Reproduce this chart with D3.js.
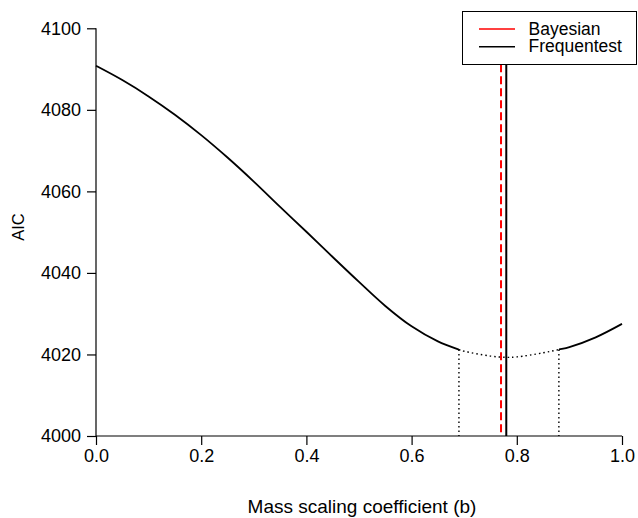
<!DOCTYPE html>
<html><head><meta charset="utf-8">
<script src="https://cdn.jsdelivr.net/npm/d3@7"></script>
<style>body{margin:0;background:#fff}svg{display:block}text{font-family:"Liberation Sans",Arial,sans-serif;fill:#000}</style>
</head><body>
<script>
const bValues = [0.00,0.05,0.10,0.15,0.20,0.25,0.30,0.35,0.40,0.45,0.50,0.55,0.60,0.65,0.69,0.70,0.75,0.78,0.80,0.85,0.88,0.90,0.95,1.00];
const aicValues = [4090.8,4087.3,4083.3,4078.8,4073.8,4068.3,4062.4,4056.2,4050.1,4043.9,4037.8,4031.9,4026.9,4023.2,4021.2,4020.8,4019.6,4019.3,4019.4,4020.4,4021.2,4021.8,4024.2,4027.5];
const ciBounds = [0.69, 0.88];
const bayesianEstimate = 0.770;
const frequentistEstimate = 0.780;
const xTicks = [0,0.2,0.4,0.6,0.8,1.0];
const yTicks = [4000,4020,4040,4060,4080,4100];
const legendLabels = ["Bayesian","Frequentest"];
const legendColors = ["#ff0000","#000000"];

const W=638,H=518;
const svg=d3.select("body").append("svg").attr("width",W).attr("height",H);
const x=d3.scaleLinear().domain([0,1]).range([96,622]);
const y=d3.scaleLinear().domain([4000,4100]).range([436,28.3]);

const pts=bValues.map((b,i)=>({b,a:aicValues[i]}));
const line=d3.line().x(d=>x(d.b)).y(d=>y(d.a)).curve(d3.curveCatmullRom.alpha(0.5));
const defs=svg.append("defs");
defs.append("clipPath").attr("id","cl").append("rect").attr("x",0).attr("y",0).attr("width",x(ciBounds[0])).attr("height",H);
defs.append("clipPath").attr("id","cr").append("rect").attr("x",x(ciBounds[1])).attr("y",0).attr("width",W).attr("height",H);
defs.append("clipPath").attr("id","cm").append("rect").attr("x",x(ciBounds[0])).attr("y",0).attr("width",x(ciBounds[1])-x(ciBounds[0])).attr("height",H);
const g=svg.append("g");
["cl","cr"].forEach(c=>g.append("path").attr("d",line(pts)).attr("clip-path",`url(#${c})`).attr("fill","none").attr("stroke","#000").attr("stroke-width",1.8));
g.append("path").attr("d",line(pts)).attr("clip-path","url(#cm)").attr("fill","none").attr("stroke","#000").attr("stroke-width",1.4).attr("stroke-dasharray","1.5,3");
ciBounds.forEach(b=>{
  const a=aicValues[bValues.indexOf(b)];
  g.append("line").attr("x1",x(b)).attr("x2",x(b)).attr("y1",y(a)).attr("y2",y(4000))
   .attr("stroke","#000").attr("stroke-width",1.4).attr("stroke-dasharray","1.5,3");
});
g.append("line").attr("x1",x(bayesianEstimate)).attr("x2",x(bayesianEstimate)).attr("y1",y(4100)).attr("y2",y(4000))
 .attr("stroke","#ff0000").attr("stroke-width",2).attr("stroke-dasharray","8,4");
g.append("line").attr("x1",x(frequentistEstimate)).attr("x2",x(frequentistEstimate)).attr("y1",y(4100)).attr("y2",y(4000))
 .attr("stroke","#000").attr("stroke-width",2);

// axes
const fs="18px";
const xa=svg.append("g").attr("transform","translate(0,436)")
 .call(d3.axisBottom(x).tickValues(xTicks).tickFormat(d3.format(".1f")).tickSize(9).tickPadding(4));
const ya=svg.append("g").attr("transform","translate(96,0)")
 .call(d3.axisLeft(y).tickValues(yTicks).tickFormat(d3.format("d")).tickSize(9).tickPadding(6));
[xa,ya].forEach(a=>{a.select(".domain").attr("stroke","#000").attr("stroke-width",1.2);
 a.selectAll(".tick line").attr("stroke","#000").attr("stroke-width",1.2);
 a.selectAll(".tick text").attr("font-size",fs).attr("font-family","Liberation Sans, Arial, sans-serif").attr("fill","#000");});
xa.select(".domain").attr("d","M96,0H622");
ya.select(".domain").attr("d","M0,28.3V436");

svg.append("text").attr("x",362).attr("y",513).attr("text-anchor","middle").attr("font-size","19px").text("Mass scaling coefficient (b)");
svg.append("text").attr("transform","translate(24,227) rotate(-90)").attr("text-anchor","middle").attr("font-size","16.5px").text("AIC");

// legend
const lg=svg.append("g");
lg.append("rect").attr("x",462.5).attr("y",11.5).attr("width",174).attr("height",53).attr("fill","#fff").attr("stroke","#000").attr("stroke-width",1);
legendLabels.forEach((t,i)=>{
  const yy=29+i*17.7;
  lg.append("line").attr("x1",479).attr("x2",515).attr("y1",yy).attr("y2",yy).attr("stroke",legendColors[i]).attr("stroke-width",1.5);
  lg.append("text").attr("x",528.5).attr("y",yy+5.6).attr("font-size","17.5px").text(t);
});
</script>
</body></html>
